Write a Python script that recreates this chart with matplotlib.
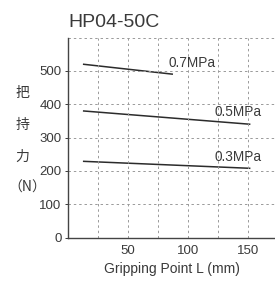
import matplotlib
matplotlib.use("Agg")
from matplotlib import pyplot as plt

# gripping force vs gripping point, HP04-50C
pressure_labels = ["0.7MPa", "0.5MPa", "0.3MPa"]
line_x = [[12.5, 87.5], [12.5, 152], [12.5, 152]]
line_y = [[520, 490], [380, 340], [229, 208]]
label_pos = [(84, 524), (122, 377), (122, 243)]

x_major = [50, 100, 150]
x_grid = [25, 50, 75, 100, 125, 150, 175]
y_ticks = [0, 100, 200, 300, 400, 500]
y_label_chars = ["把", "持", "力", "（N）"]

plt.rcParams['font.family'] = ['Liberation Sans', 'Noto Sans CJK JP', 'DejaVu Sans']

fig = plt.figure(figsize=(2.75, 2.82), dpi=100)
ax = fig.add_axes([0.247, 0.157, 0.753, 0.71])

txt = '#3a3a3a'
for xs, ys in zip(line_x, line_y):
    ax.plot(xs, ys, color='#2b2b2b', lw=1.1, solid_capstyle='butt')
for lab, (lx, ly) in zip(pressure_labels, label_pos):
    ax.text(lx, ly, lab, fontsize=9.8, color=txt, va='center', ha='left')

for gx in x_grid:
    ax.axvline(gx, color='#9a9a9a', lw=0.7, ls=(0, (2.5, 3)))
for gy in y_ticks[1:] + [600]:
    ax.axhline(gy, color='#9a9a9a', lw=0.7, ls=(0, (2.5, 3)))

ax.set_xlim(0, 172.5)
ax.set_ylim(0, 600)
ax.set_xticks(x_major)
ax.set_yticks(y_ticks)
ax.tick_params(labelsize=9.5, colors=txt, length=2.5, width=0.7, pad=2)
ax.tick_params(axis='x', length=0, pad=5)
for s in ['top', 'right']:
    ax.spines[s].set_visible(False)
for s in ['left', 'bottom']:
    ax.spines[s].set_color('#444444')
    ax.spines[s].set_linewidth(1.0)

ax.set_xlabel("Gripping Point L (mm)", fontsize=10, color=txt, labelpad=4)
fig.text(0.247, 0.92, "HP04-50C", fontsize=14, color=txt, ha='left', va='center')

ys_px = [93, 125, 157, 188]
for ch, yp in zip(y_label_chars, ys_px):
    xp = 22 if len(ch) == 1 else 27
    fig.text(xp / 275, 1 - yp / 282, ch, fontsize=10, color=txt, ha='center', va='center',
             family=['Noto Sans CJK JP', 'DejaVu Sans'])

fig.savefig("out.png", dpi=100, facecolor='white')
